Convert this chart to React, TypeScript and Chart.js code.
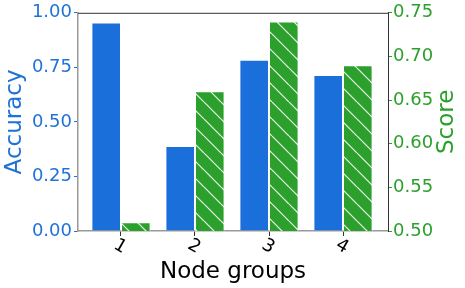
import React, { useEffect, useRef } from "react";
import { Chart, registerables } from "chart.js";

Chart.register(...registerables);

const categories = ["1", "2", "3", "4"];
const accuracy = [0.955, 0.39, 0.785, 0.715];
const score = [0.51, 0.66, 0.74, 0.69];
const accuracyTicks = [0, 0.25, 0.5, 0.75, 1.0];
const scoreTicks = [0.5, 0.55, 0.6, 0.65, 0.7, 0.75];

const BLUE = "#1a6fdb";
const BLUE_TEXT = "#1f72d8";
const GREEN = "#2ca02c";
const FONT = "'DejaVu Sans', 'Liberation Sans', sans-serif";

function makeHatch(): CanvasPattern | string {
  const s = 17;
  const c = document.createElement("canvas");
  c.width = s;
  c.height = s;
  const g = c.getContext("2d");
  if (!g) return GREEN;
  g.fillStyle = GREEN;
  g.fillRect(0, 0, s, s);
  g.strokeStyle = "rgba(255,255,255,0.9)";
  g.lineWidth = 1.2;
  for (let k = -1; k <= 1; k++) {
    g.beginPath();
    g.moveTo(k * s, 0);
    g.lineTo(k * s + s, s);
    g.stroke();
  }
  const p = g.createPattern(c, "repeat");
  return p || GREEN;
}

const extrasPlugin = {
  id: "extras",
  afterDraw(chart: any) {
    const { ctx, chartArea } = chart;
    ctx.save();
    ctx.strokeStyle = "#333333";
    ctx.lineWidth = 1;
    ctx.beginPath();
    ctx.moveTo(chartArea.left, chartArea.top + 0.5);
    ctx.lineTo(chartArea.right, chartArea.top + 0.5);
    ctx.stroke();
    // right axis title, reading bottom-to-top
    ctx.translate(447.5, (chartArea.top + chartArea.bottom) / 2);
    ctx.rotate(-Math.PI / 2);
    ctx.fillStyle = GREEN;
    ctx.font = `23px ${FONT}`;
    ctx.textAlign = "center";
    ctx.textBaseline = "middle";
    ctx.fillText("Score", 0, 0);
    ctx.restore();
  },
};

export default function App() {
  const ref = useRef<HTMLCanvasElement | null>(null);

  useEffect(() => {
    if (!ref.current) return;
    const hatch = makeHatch();
    const chart = new Chart(ref.current, {
      type: "bar",
      data: {
        datasets: [
          {
            label: "Accuracy",
            data: accuracy.map((v, i) => ({ x: i + 1, y: v })),
            backgroundColor: BLUE,
            borderColor: "rgba(255,255,255,0.7)",
            borderWidth: 1,
            yAxisID: "y",
            categoryPercentage: 0.8,
            barPercentage: 1.0,
          },
          {
            label: "Score",
            data: score.map((v, i) => ({ x: i + 1, y: v })),
            backgroundColor: hatch as any,
            borderColor: "rgba(255,255,255,0.7)",
            borderWidth: 1,
            yAxisID: "y2",
            categoryPercentage: 0.8,
            barPercentage: 1.0,
          },
        ],
      },
      options: {
        animation: false,
        responsive: false,
        layout: { padding: { top: 12, left: 0, right: 0, bottom: 0 } },
        plugins: {
          legend: { display: false },
          tooltip: { enabled: false },
        },
        scales: {
          x: {
            type: "linear",
            min: 0.419,
            max: 4.608,
            offset: false,
            afterBuildTicks: (scale: any) => {
              scale.ticks = categories.map((_, i) => ({ value: i + 1 }));
            },
            afterFit: (scale: any) => {
              scale.height = 57;
            },
            ticks: {
              callback: (v: any) => categories[Number(v) - 1] ?? "",
              minRotation: -30,
              maxRotation: -30,
              color: "#000",
              padding: 4,
              labelOffset: 4,
              font: { size: 18, family: FONT },
            },
            grid: {
              display: true,
              drawOnChartArea: false,
              offset: false,
              tickLength: 5,
              color: "#333",
            },
            border: { display: true, color: "#999", width: 1.5 },
            title: {
              display: true,
              text: "Node groups",
              color: "#000",
              font: { size: 23, family: FONT },
              padding: { top: 0, bottom: 2 },
            },
          },
          y: {
            type: "linear",
            position: "left",
            min: 0,
            max: 1,
            afterBuildTicks: (scale: any) => {
              scale.ticks = accuracyTicks.map((v) => ({ value: v }));
            },
            afterFit: (scale: any) => {
              scale.width = 78;
            },
            ticks: {
              callback: (v: any) => Number(v).toFixed(2),
              color: BLUE_TEXT,
              padding: 2,
              font: { size: 18, family: FONT },
            },
            grid: {
              drawOnChartArea: false,
              tickLength: 4,
              color: BLUE_TEXT,
            },
            border: { display: true, color: "#999", width: 1.5 },
            title: {
              display: true,
              text: "Accuracy",
              color: BLUE_TEXT,
              font: { size: 23, family: FONT },
              padding: { top: 1, bottom: 0 },
            },
          },
          y2: {
            type: "linear",
            position: "right",
            min: 0.5,
            max: 0.75,
            afterBuildTicks: (scale: any) => {
              scale.ticks = scoreTicks.map((v) => ({ value: v }));
            },
            afterFit: (scale: any) => {
              scale.width = 77;
            },
            ticks: {
              callback: (v: any) => Number(v).toFixed(2),
              color: GREEN,
              padding: 1,
              font: { size: 18, family: FONT },
            },
            grid: {
              drawOnChartArea: false,
              tickLength: 4,
              color: GREEN,
            },
            border: { display: true, color: "#333", width: 1 },
            title: { display: false },
          },
        },
      },
      plugins: [extrasPlugin],
    } as any);
    return () => chart.destroy();
  }, []);

  return (
    <div style={{ position: "fixed", left: 0, top: 0, width: 465, height: 288, background: "#fff" }}>
      <canvas ref={ref} width={465} height={288} style={{ display: "block" }} />
    </div>
  );
}
